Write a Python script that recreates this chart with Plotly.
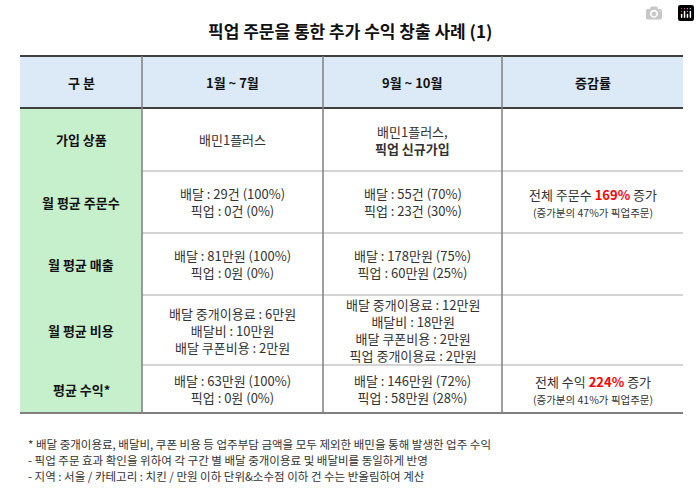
import plotly.graph_objects as go

title = "픽업 주문을 통한 추가 수익 창출 사례 (1)"
headers = ["구 분", "1월 ~ 7월", "9월 ~ 10월", "증감률"]
row_labels = ["가입 상품", "월 평균 주문수", "월 평균 매출", "월 평균 비용", "평균 수익*"]
col_jan_jul = [
    "배민1플러스",
    "배달 : 29건 (100%)<br>픽업 : 0건 (0%)",
    "배달 : 81만원 (100%)<br>픽업 : 0원 (0%)",
    "배달 중개이용료 : 6만원<br>배달비 : 10만원<br>배달 쿠폰비용 : 2만원",
    "배달 : 63만원 (100%)<br>픽업 : 0원 (0%)",
]
col_sep_oct = [
    "배민1플러스,<br><b>픽업 신규가입</b>",
    "배달 : 55건 (70%)<br>픽업 : 23건 (30%)",
    "배달 : 178만원 (75%)<br>픽업 : 60만원 (25%)",
    "배달 중개이용료 : 12만원<br>배달비 : 18만원<br>배달 쿠폰비용 : 2만원<br>픽업 중개이용료 : 2만원",
    "배달 : 146만원 (72%)<br>픽업 : 58만원 (28%)",
]
change_main = ["", "전체 주문수 ", "", "", "전체 수익 "]
change_pct = ["", "169%", "", "", "224%"]
change_sub = ["", "(증가분의 47%가 픽업주문)", "", "", "(증가분의 41%가 픽업주문)"]
footnotes = [
    "* 배달 중개이용료, 배달비, 쿠폰 비용 등 업주부담 금액을 모두 제외한 배민을 통해 발생한 업주 수익",
    "- 픽업 주문 효과 확인을 위하여 각 구간 별 배달 중개이용료 및 배달비를 동일하게 반영",
    "- 지역 : 서울 / 카테고리 : 치킨 / 만원 이하 단위&소수점 이하 건 수는 반올림하여 계산",
]

FONT = "Noto Sans CJK KR"
xs = [20, 142, 323, 502, 683]
ys = [56, 108, 171, 233, 295, 365, 413]

fig = go.Figure()
shapes = []
ann = []

shapes.append(dict(type="rect", x0=xs[0], x1=xs[-1], y0=ys[0], y1=ys[1], fillcolor="#dce9f6", line_width=0, layer="below"))
shapes.append(dict(type="rect", x0=xs[0], x1=xs[1], y0=ys[1], y1=ys[-1], fillcolor="#c6efcc", line_width=0, layer="below"))
for i, y in enumerate(ys):
    if i in (0, 1):
        shapes.append(dict(type="line", x0=xs[0], x1=xs[-1], y0=y, y1=y, line=dict(color="#404040", width=2)))
    elif i == len(ys) - 1:
        shapes.append(dict(type="line", x0=xs[0], x1=xs[-1], y0=y, y1=y, line=dict(color="#808080", width=2)))
    else:
        shapes.append(dict(type="line", x0=xs[1], x1=xs[-1], y0=y, y1=y, line=dict(color="#d4d4d4", width=2)))
for x in xs[1:-1]:
    shapes.append(dict(type="line", x0=x, x1=x, y0=ys[0], y1=ys[-1], line=dict(color="#7f7f7f", width=1.5)))

def add(x, y, t, size=13, color="#222", bold=False, align="center", xanchor="center"):
    ann.append(dict(x=x, y=y, text=(f"<b>{t}</b>" if bold else t), showarrow=False,
                    font=dict(family=FONT, size=size, color=color), align=align, xanchor=xanchor, yanchor="middle"))

add(350, 30, title, size=17, bold=True, color="#111")
for j, h in enumerate(headers):
    add((xs[j] + xs[j + 1]) / 2, (ys[0] + ys[1]) / 2, h, bold=True, color="#111")
for i, lab in enumerate(row_labels):
    yc = (ys[i + 1] + ys[i + 2]) / 2
    add((xs[0] + xs[1]) / 2, yc, lab, bold=True, color="#111")
    add((xs[1] + xs[2]) / 2, yc, col_jan_jul[i], color="#333")
    add((xs[2] + xs[3]) / 2, yc, col_sep_oct[i], color="#333")
    if change_pct[i]:
        t = (change_main[i] + f"<span style='color:#ff0000'><b>{change_pct[i]}</b></span> 증가"
             + f"<br><span style='font-size:10.5px'>{change_sub[i]}</span>")
        add((xs[3] + xs[4]) / 2, yc, t, color="#333")
for k, f in enumerate(footnotes):
    add(26, 444 + 16 * k, f, size=11.5, color="#333", align="left", xanchor="left")

fig.update_layout(width=700, height=491, margin=dict(l=0, r=0, t=0, b=0),
                  paper_bgcolor="white", plot_bgcolor="white", shapes=shapes, annotations=ann,
                  xaxis=dict(range=[0, 700], visible=False, fixedrange=True),
                  yaxis=dict(range=[491, 0], visible=False, fixedrange=True),
                  showlegend=False)
fig.write_html("out.html")
with open("out.html", encoding="utf-8") as fh:
    html = fh.read()
html = html.replace("<head>", "<head><style>html,body{margin:0;padding:0;overflow:hidden}</style>", 1)
with open("out.html", "w", encoding="utf-8") as fh:
    fh.write(html)
